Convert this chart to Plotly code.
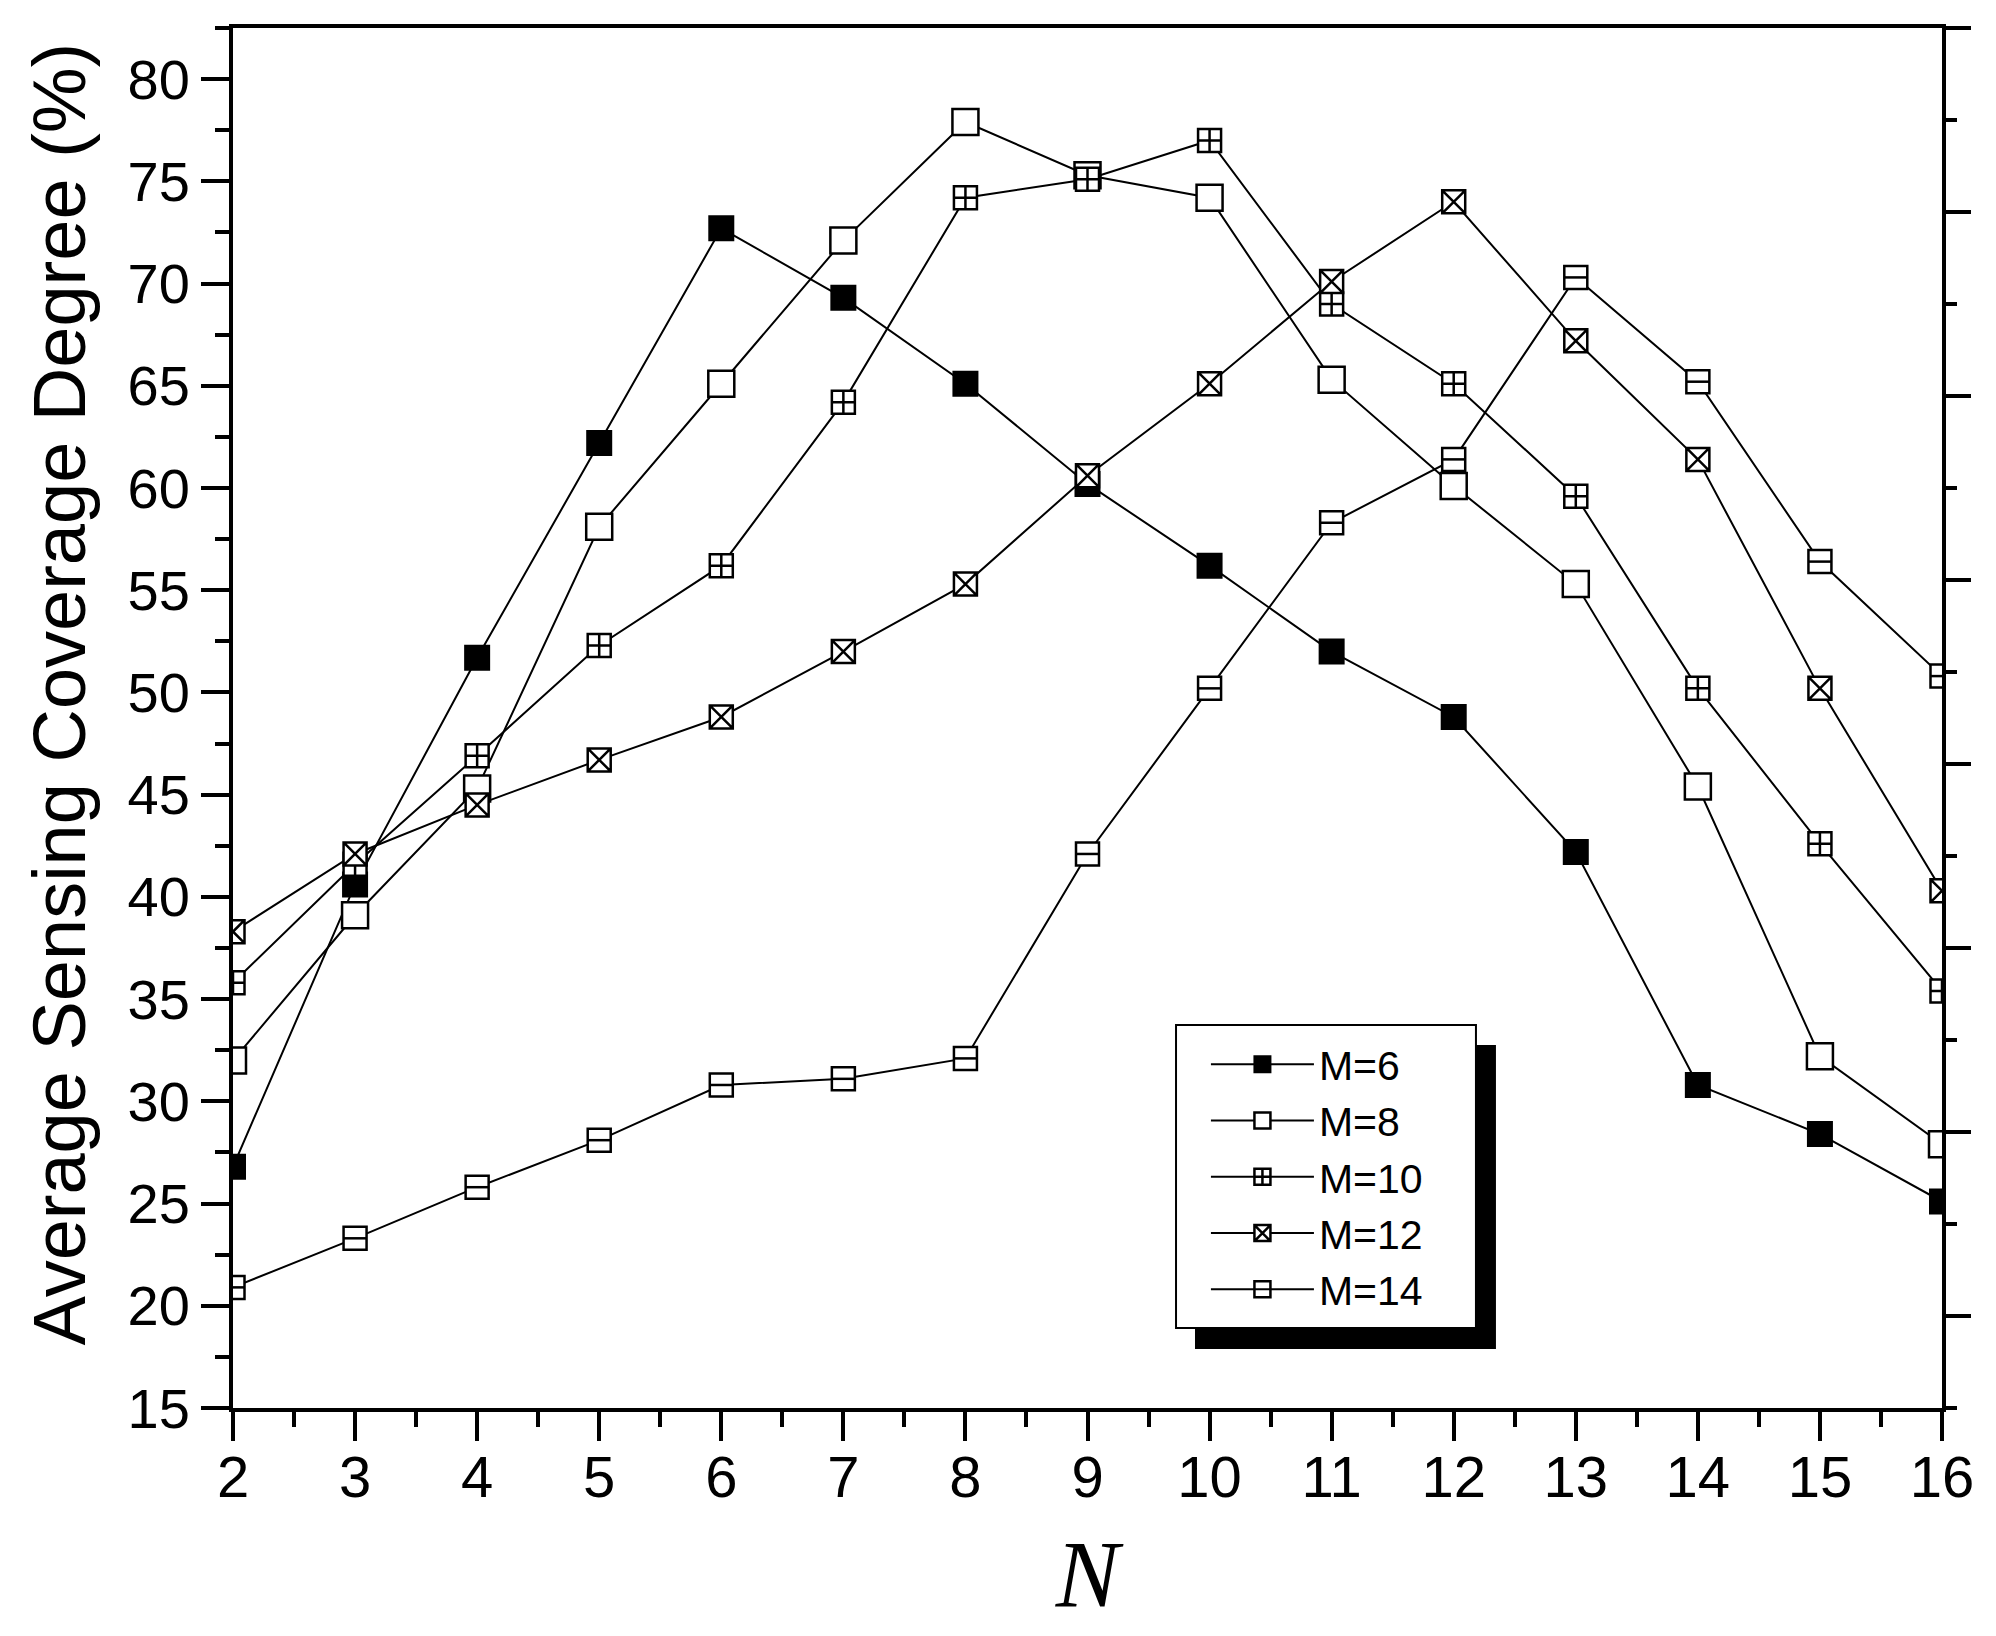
import plotly.graph_objects as go

N = [2, 3, 4, 5, 6, 7, 8, 9, 10, 11, 12, 13, 14, 15, 16]

m6 = [26.8, 40.6, 51.7, 62.2, 72.7, 69.3, 65.1, 60.2, 56.2, 52.0, 48.8, 42.2, 30.8, 28.4, 25.1]
m8 = [32.0, 39.1, 45.3, 58.1, 65.1, 72.1, 77.9, 75.3, 74.2, 65.3, 60.1, 55.3, 45.4, 32.2, 27.9]
m10 = [35.8, 41.6, 46.9, 52.3, 56.2, 64.2, 74.2, 75.1, 77.0, 69.0, 65.1, 59.6, 50.2, 42.6, 35.4]
m12 = [38.3, 42.1, 44.5, 46.7, 48.8, 52.0, 55.3, 60.6, 65.1, 70.1, 74.0, 67.2, 61.4, 50.2, 40.3]
m14 = [20.9, 23.3, 25.8, 28.1, 30.8, 31.1, 32.1, 42.1, 50.2, 58.3, 61.4, 70.3, 65.2, 56.4, 50.8]

names = ['M=6', 'M=8', 'M=10', 'M=12', 'M=14']
series = [m6, m8, m10, m12, m14]

FONT = 'Liberation Sans'
BLACK = 'black'


def marker_style(name):
    if name == 'M=6':
        return dict(symbol='square', size=24, color=BLACK, line=dict(color=BLACK, width=2))
    if name == 'M=8':
        return dict(symbol='square', size=26, color='white', line=dict(color=BLACK, width=2.5))
    if name == 'M=10':
        return dict(symbol='square-cross', size=23, color='white', line=dict(color=BLACK, width=2.5))
    if name == 'M=12':
        return dict(symbol='square-x', size=23, color='white', line=dict(color=BLACK, width=2.5))
    return dict(symbol='square', size=23, color='white', line=dict(color=BLACK, width=2.5))


def main():
    fig = go.Figure()

    # connecting lines first so every marker sits on top of them
    for name, vals in zip(names, series):
        fig.add_trace(go.Scatter(x=N, y=vals, mode='lines', line=dict(color=BLACK, width=2),
                                 showlegend=False, hoverinfo='skip'))

    for name, vals in zip(names, series):
        fig.add_trace(go.Scatter(x=N, y=vals, mode='markers', marker=marker_style(name),
                                 showlegend=False, name=name))

    # horizontal bar inside the M=14 boxes
    fig.add_trace(go.Scatter(x=N, y=m14, mode='markers', showlegend=False, hoverinfo='skip',
                             marker=dict(symbol='line-ew-open', size=23 / 1.4, color=BLACK,
                                         line=dict(width=2.5))))

    # legend-only entries (line + symbol)
    for name in names:
        ms = marker_style(name)
        if name == 'M=14':
            ms = dict(symbol='square-open', size=23, color=BLACK, line=dict(width=2.5))
        fig.add_trace(go.Scatter(x=[None], y=[None], mode='lines+markers', name=name,
                                 line=dict(color=BLACK, width=2), marker=ms))

    # dummy trace to bring up the right-hand axis
    fig.add_trace(go.Scatter(x=[None], y=[None], yaxis='y2', showlegend=False, hoverinfo='skip'))

    fig.update_layout(
        width=1980, height=1620,
        margin=dict(l=225, r=46, t=20, b=220),
        paper_bgcolor='white', plot_bgcolor='white',
        font=dict(family=FONT, color=BLACK),
        showlegend=True,
        legend=dict(x=0.5693, y=0.2732, xanchor='left', yanchor='top',
                    bgcolor='rgba(0,0,0,0)', borderwidth=0,
                    font=dict(family=FONT, size=41, color=BLACK),
                    itemwidth=103, tracegroupgap=0),
        xaxis=dict(range=[2, 16], tick0=2, dtick=1, showgrid=False, zeroline=False,
                   showline=True, linecolor=BLACK, linewidth=4, mirror=True,
                   ticks='outside', ticklen=29, tickwidth=4, tickcolor=BLACK,
                   minor=dict(dtick=0.5, ticks='outside', ticklen=15, tickwidth=4, tickcolor=BLACK),
                   tickfont=dict(family=FONT, size=58), ticklabelstandoff=-14,
                   title=dict(text='<i>N</i>', font=dict(family='Liberation Serif', size=95),
                              standoff=40)),
        xaxis2=dict(range=[2, 16], tick0=2, dtick=1, overlaying='x', anchor='y', side='top',
                    showgrid=False, zeroline=False, showline=False, showticklabels=False,
                    ticks='inside', ticklen=29, tickwidth=4, tickcolor=BLACK,
                    minor=dict(dtick=0.5, ticks='inside', ticklen=15, tickwidth=4, tickcolor=BLACK)),
        yaxis=dict(range=[15, 82.5], tick0=15, dtick=5, showgrid=False, zeroline=False,
                   showline=True, linecolor=BLACK, linewidth=4, mirror=True,
                   ticks='outside', ticklen=28, tickwidth=4, tickcolor=BLACK,
                   minor=dict(dtick=2.5, ticks='outside', ticklen=14, tickwidth=4, tickcolor=BLACK),
                   tickfont=dict(family=FONT, size=56)),
        yaxis2=dict(range=[-0.5, 7], tick0=0, dtick=1, overlaying='y', anchor='x', side='right',
                    showgrid=False, zeroline=False, showline=False, showticklabels=False,
                    ticks='outside', ticklen=28, tickwidth=4, tickcolor=BLACK,
                    minor=dict(dtick=0.5, ticks='outside', ticklen=14, tickwidth=4, tickcolor=BLACK)),
        annotations=[dict(text='Average Sensing Coverage Degree (%)', textangle=-90,
                          xref='paper', yref='paper', x=-0.101, y=0.5174,
                          xanchor='center', yanchor='middle', showarrow=False,
                          font=dict(family=FONT, size=74, color=BLACK))],
        shapes=[
            # legend shadow and box
            dict(type='rect', xref='paper', yref='paper',
                 x0=0.5629, x1=0.7390, y0=0.0428, y1=0.2630,
                 fillcolor=BLACK, line=dict(width=0), layer='above'),
            dict(type='rect', xref='paper', yref='paper',
                 x0=0.5518, x1=0.7273, y0=0.0580, y1=0.2775,
                 fillcolor='white', line=dict(color=BLACK, width=2), layer='above'),
        ],
    )

    fig.write_html('out.html')


if __name__ == '__main__':
    main()
